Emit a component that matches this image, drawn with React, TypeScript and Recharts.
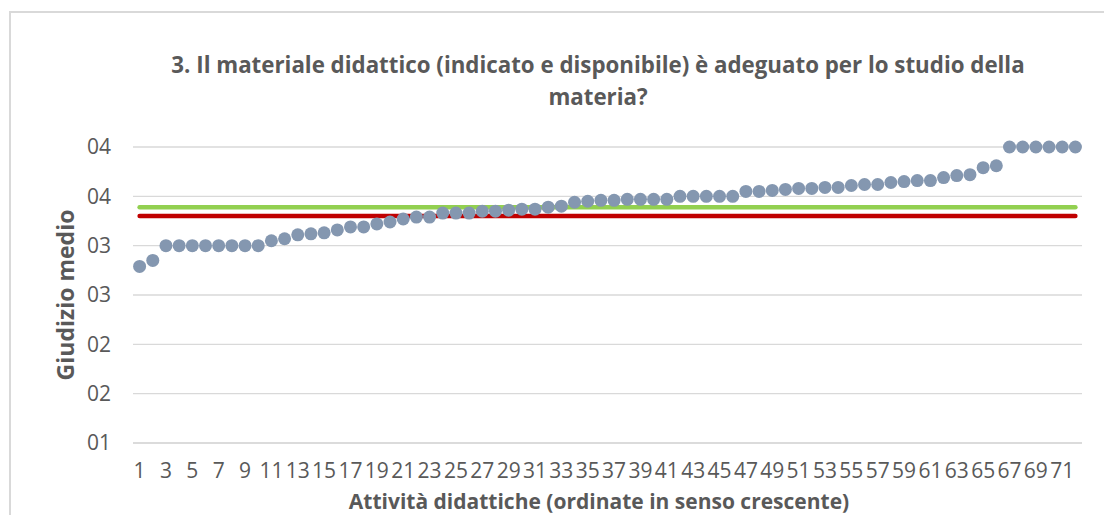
import React from "react";
import { ComposedChart, Line, XAxis, YAxis, CartesianGrid } from "recharts";

const categories: number[] = Array.from({ length: 72 }, (_, i) => i + 1);

const giudizio: number[] = [
  2.79, 2.85, 3.0, 3.0, 3.0, 3.0, 3.0, 3.0, 3.0, 3.0,
  3.05, 3.07, 3.11, 3.12, 3.13, 3.16, 3.19, 3.19, 3.22, 3.24,
  3.27, 3.29, 3.29, 3.33, 3.33, 3.33, 3.35, 3.35, 3.36, 3.37,
  3.37, 3.39, 3.4, 3.44, 3.45, 3.46, 3.46, 3.47, 3.47, 3.47,
  3.47, 3.5, 3.5, 3.5, 3.5, 3.5, 3.55, 3.55, 3.56, 3.57,
  3.58, 3.58, 3.59, 3.59, 3.61, 3.62, 3.62, 3.64, 3.65, 3.66,
  3.66, 3.69, 3.71, 3.72, 3.79, 3.81, 4.0, 4.0, 4.0, 4.0,
  4.0, 4.0,
];

const mediaVerde = 3.39;
const mediaRossa = 3.3;

const yTicks: number[] = [1, 1.5, 2, 2.5, 3, 3.5, 4];
const yTickLabels: string[] = ["01", "02", "02", "03", "03", "04", "04"];

const titleText = "3. Il materiale didattico (indicato e disponibile) è adeguato per lo studio della";
const titleText2 = "materia?";
const xTitle = "Attività didattiche (ordinate in senso crescente)";
const yTitle = "Giudizio medio";

const data = categories.map((c, i) => ({
  cat: c,
  val: giudizio[i],
  verde: mediaVerde,
  rossa: mediaRossa,
}));

const FONT = "'Open Sans', sans-serif";
const TEXT = "#595959";

export default function App() {
  return (
    <div
      style={{
        position: "fixed",
        left: 0,
        top: 0,
        width: 1104,
        height: 515,
        overflow: "hidden",
        background: "#fff",
        fontFamily: FONT,
      }}
    >
      <div
        style={{
          position: "absolute",
          left: 9,
          top: 11,
          width: 1200,
          height: 600,
          borderLeft: "2px solid #D9D9D9",
          borderTop: "2px solid #D9D9D9",
        }}
      />
      <div
        style={{
          position: "absolute",
          left: 98,
          top: 49,
          width: 1000,
          textAlign: "center",
          fontWeight: 700,
          fontSize: 22.3,
          lineHeight: "32px",
          color: TEXT,
        }}
      >
        {titleText}
        <br />
        {titleText2}
      </div>
      <div style={{ position: "absolute", left: 0, top: 0 }}>
        <ComposedChart
          width={1104}
          height={515}
          data={data}
          margin={{ top: 147, right: 22, bottom: 0, left: 0 }}
        >
          <CartesianGrid vertical={false} stroke="#D9D9D9" strokeWidth={1.3} />
          <XAxis
            dataKey="cat"
            type="category"
            interval={1}
            height={72}
            padding={{ left: 6.6, right: 6.6 }}
            tickLine={false}
            axisLine={{ stroke: "#D9D9D9", strokeWidth: 1.3 }}
            tickMargin={14}
            tick={{ fill: TEXT, fontSize: 21, fontFamily: FONT }}
          />
          <YAxis
            type="number"
            domain={[1, 4]}
            ticks={yTicks}
            width={133}
            axisLine={false}
            tickLine={false}
            tickMargin={16}
            tickFormatter={(v: number, i: number) => yTickLabels[i]}
            tick={{ fill: TEXT, fontSize: 21, fontFamily: FONT }}
          />
          <Line
            dataKey="verde"
            stroke="#92D050"
            strokeWidth={4.5}
            strokeLinecap="round"
            dot={false}
            activeDot={false}
            isAnimationActive={false}
          />
          <Line
            dataKey="rossa"
            stroke="#C00000"
            strokeWidth={4.5}
            strokeLinecap="round"
            dot={false}
            activeDot={false}
            isAnimationActive={false}
          />
          <Line
            dataKey="val"
            stroke="none"
            strokeWidth={0}
            dot={{ r: 6.5, fill: "#8497B0", stroke: "none" }}
            activeDot={false}
            isAnimationActive={false}
          />
        </ComposedChart>
      </div>
      <div
        style={{
          position: "absolute",
          left: 99,
          top: 487,
          width: 1000,
          textAlign: "center",
          fontWeight: 700,
          fontSize: 21,
          lineHeight: "28px",
          color: TEXT,
        }}
      >
        {xTitle}
      </div>
      <div
        style={{
          position: "absolute",
          left: 65 - 150,
          top: 295 - 15,
          width: 300,
          height: 30,
          lineHeight: "30px",
          textAlign: "center",
          transform: "rotate(-90deg)",
          fontWeight: 700,
          fontSize: 23,
          color: TEXT,
        }}
      >
        {yTitle}
      </div>
    </div>
  );
}
